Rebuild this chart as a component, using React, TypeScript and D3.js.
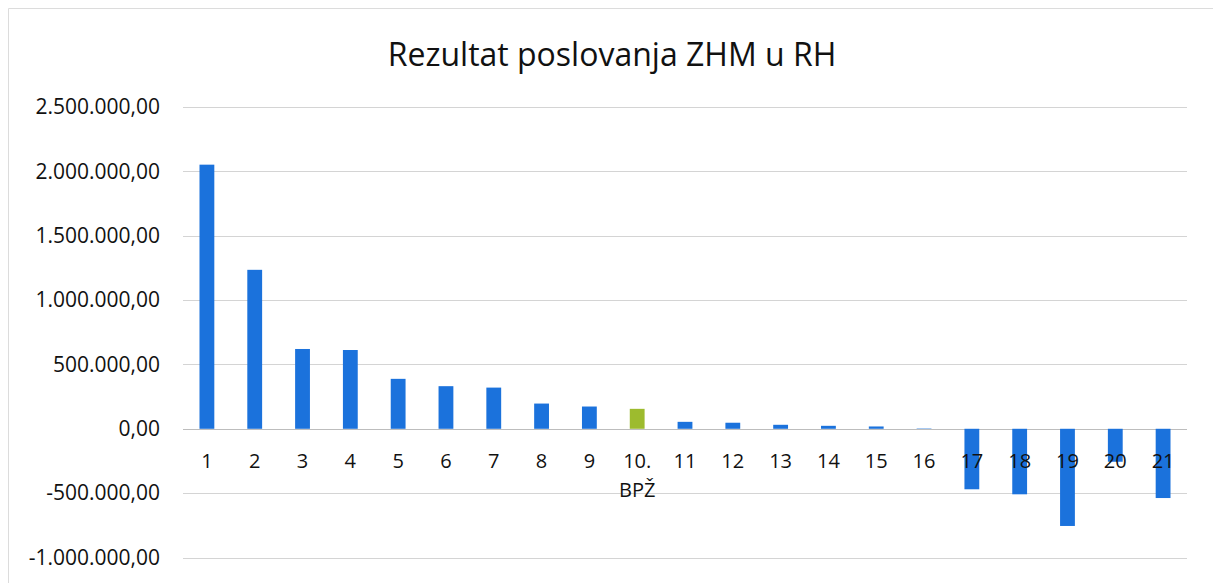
import React, { useEffect, useRef } from "react";
import * as d3 from "d3";

const categories = ["1", "2", "3", "4", "5", "6", "7", "8", "9", "10.|BPŽ", "11", "12", "13", "14", "15", "16", "17", "18", "19", "20", "21"];
const values = [2052000, 1235000, 620000, 612000, 388000, 331000, 320000, 196000, 173000, 155000, 54000, 47000, 31000, 23000, 18000, 3000, -470000, -509000, -755000, -256000, -538000];
const highlighted = ["10.|BPŽ"];
const yTicks = [-1000000, -500000, 0, 500000, 1000000, 1500000, 2000000, 2500000];
const title = "Rezultat poslovanja ZHM u RH";

const W = 1213;
const H = 583;
const margin = { top: 107, right: 26, bottom: 25, left: 183 };

const fmt = (v: number) => {
  const s = d3.format(",.2f")(v);
  return s.replace(/,/g, "#").replace(".", ",").replace(/#/g, ".").replace("−", "-");
};

export default function App() {
  const ref = useRef<SVGSVGElement>(null);

  useEffect(() => {
    const svg = d3.select(ref.current);
    svg.selectAll("*").remove();

    const x = d3
      .scaleBand()
      .domain(categories)
      .range([margin.left, W - margin.right])
      .paddingInner(0.69)
      .paddingOuter(0.345);

    const y = d3
      .scaleLinear()
      .domain([-1000000, 2500000])
      .range([557.5, 107]);

    // frame (left and top edges of the scanned chart box)
    svg
      .append("path")
      .attr("d", `M8.5,${H} V8.5 H${W}`)
      .attr("fill", "none")
      .attr("stroke", "#dcdcdc")
      .attr("stroke-width", 1);

    svg
      .append("text")
      .attr("x", 612)
      .attr("y", 66)
      .attr("text-anchor", "middle")
      .attr("font-family", "'Open Sans', sans-serif")
      .attr("font-size", 32)
      .attr("fill", "#111")
      .text(title);

    // grid
    svg
      .append("g")
      .selectAll("line")
      .data(yTicks)
      .enter()
      .append("line")
      .attr("x1", margin.left)
      .attr("x2", W - margin.right)
      .attr("y1", (d) => Math.round(y(d)) + 0.5)
      .attr("y2", (d) => Math.round(y(d)) + 0.5)
      .attr("stroke", (d) => (d === 0 ? "#bdbdbd" : "#d4d4d4"))
      .attr("stroke-width", 1);

    // y labels
    svg
      .append("g")
      .selectAll("text")
      .data(yTicks)
      .enter()
      .append("text")
      .attr("x", 160)
      .attr("y", (d) => y(d))
      .attr("dy", "0.35em")
      .attr("text-anchor", "end")
      .attr("font-family", "'Open Sans', sans-serif")
      .attr("font-size", 21)
      .attr("fill", "#111")
      .text((d) => fmt(d));

    // bars
    svg
      .append("g")
      .selectAll("rect")
      .data(categories)
      .enter()
      .append("rect")
      .attr("x", (d) => x(d)!)
      .attr("width", x.bandwidth())
      .attr("y", (d, i) => y(Math.max(0, values[i])))
      .attr("height", (d, i) => Math.abs(y(values[i]) - y(0)))
      .attr("fill", (d) => (highlighted.includes(d) ? "#9dbb2e" : "#1b72dc"));

    // category labels
    const lab = svg
      .append("g")
      .selectAll("text")
      .data(categories)
      .enter()
      .append("text")
      .attr("x", (d) => x(d)! + x.bandwidth() / 2)
      .attr("y", 468)
      .attr("text-anchor", "middle")
      .attr("font-family", "'Open Sans', sans-serif")
      .attr("font-size", 20)
      .attr("fill", "#111");
    lab.each(function (d) {
      const parts = d.split("|");
      const t = d3.select(this);
      parts.forEach((p, k) => {
        t.append("tspan")
          .attr("x", x(d)! + x.bandwidth() / 2)
          .attr("dy", k === 0 ? 0 : 29)
          .text(p);
      });
    });
  }, []);

  return (
    <svg
      ref={ref}
      width={W}
      height={H}
      style={{ position: "absolute", left: 0, top: 0, background: "#fff" }}
    />
  );
}
